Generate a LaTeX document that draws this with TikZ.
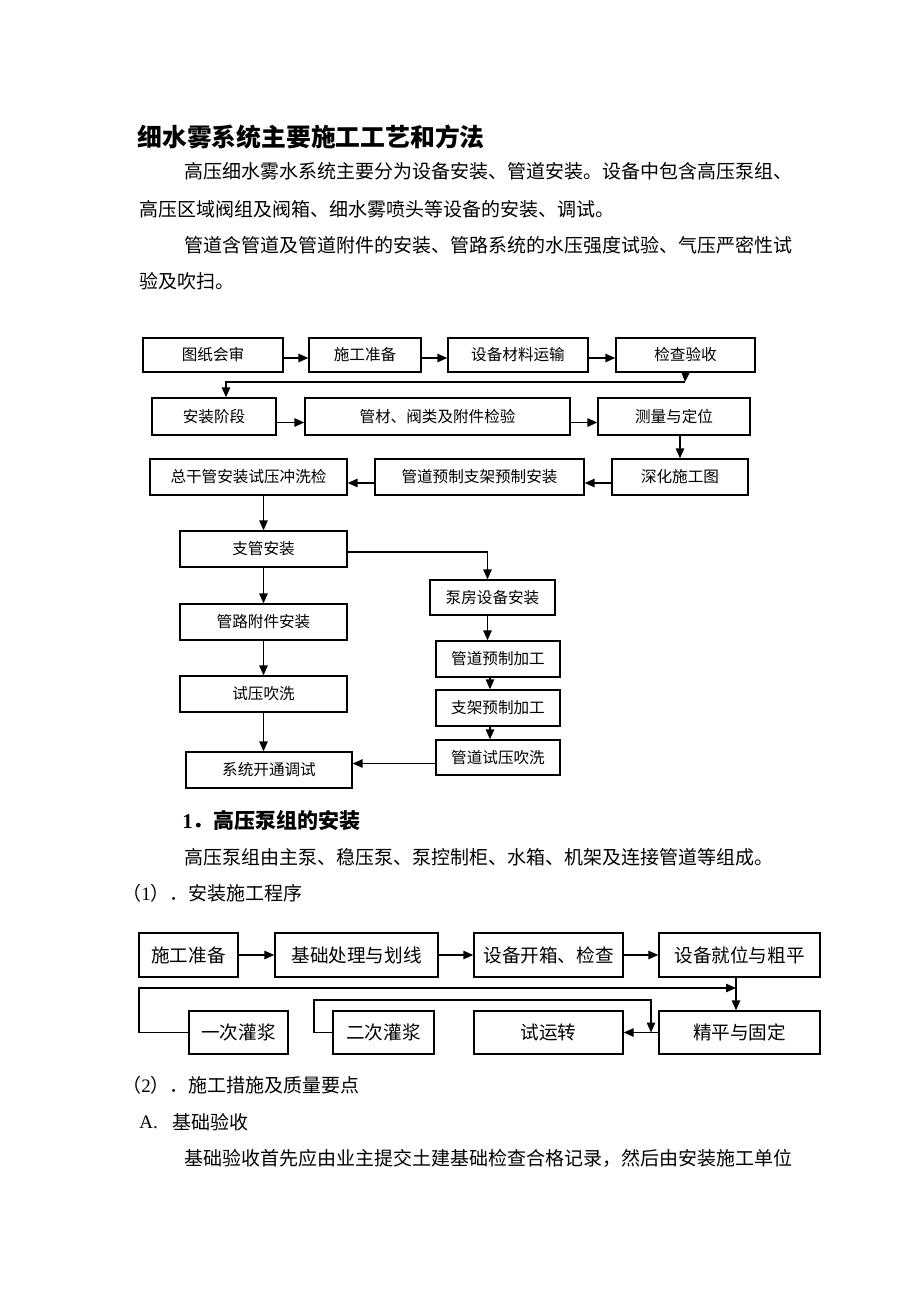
\documentclass[tikz,border=0pt]{standalone}
\usepackage{fontspec}
\setmainfont{Noto Sans CJK SC}
\newfontfamily\lat{Liberation Serif}
\usetikzlibrary{arrows.meta,calc}
\newcommand\mybox[7]{\node[#1,minimum width={(#5-#3)*0.5pt},minimum height={(#6-#4)*0.5pt}] (#2) at ({(#3+#5)/2},{(#4+#6)/2}) {#7};}
\begin{document}
\begin{tikzpicture}[x=0.5pt,y=-0.5pt,
 box/.style={draw,line width=0.65pt,inner sep=0,font=\fontsize{7.8pt}{9pt}\selectfont},
 boxb/.style={box,font=\fontsize{9.3pt}{11pt}\selectfont},
 arr/.style={line width=0.75pt,-{Triangle[length=5pt,width=4.2pt]}},
 txt/.style={anchor=west,inner sep=0,font=\fontsize{9.5pt}{11pt}\selectfont},
 head/.style={anchor=west,inner sep=0,font=\fontsize{12.4pt}{14pt}\selectfont\bfseries},
 sub/.style={anchor=west,inner sep=0,font=\fontsize{10.5pt}{12pt}\selectfont\bfseries}]
\fill[white] (0,0) rectangle (920,1302);
\useasboundingbox (0,0) rectangle (920,1302);

% ---------- header text ----------
\node[head] (title) at (137,137) {细水雾系统主要施工工艺和方法};
\node[txt] (p1) at (184,171) {高压细水雾水系统主要分为设备安装、管道安装。设备中包含高压泵组、};
\node[txt] (p2) at (139,209) {高压区域阀组及阀箱、细水雾喷头等设备的安装、调试。};
\node[txt] (p3) at (184,245) {管道含管道及管道附件的安装、管路系统的水压强度试验、气压严密性试};
\node[txt] (p4) at (139,281) {验及吹扫。};

% ---------- flowchart 1 ----------
\mybox{box}{a1}{143}{338}{283}{372}{图纸会审}
\mybox{box}{a2}{309}{338}{421}{372}{施工准备}
\mybox{box}{a3}{448}{338}{588}{372}{设备材料运输}
\mybox{box}{a4}{616}{338}{755}{372}{检查验收}
\mybox{box}{b1}{152}{398}{276}{435}{安装阶段}
\mybox{box}{b2}{305}{398}{570}{435}{管材、阀类及附件检验}
\mybox{box}{b3}{598}{398}{750}{435}{测量与定位}
\mybox{box}{c1}{150}{459}{347}{495}{总干管安装试压冲洗检}
\mybox{box}{c2}{375}{459}{584}{495}{管道预制支架预制安装}
\mybox{box}{c3}{612}{459}{748}{495}{深化施工图}
\mybox{box}{d1}{180}{531}{347}{567}{支管安装}
\mybox{box}{d2}{180}{604}{347}{640}{管路附件安装}
\mybox{box}{d3}{180}{676}{347}{712}{试压吹洗}
\mybox{box}{d4}{186}{752}{352}{788}{系统开通调试}
\mybox{box}{e1}{430}{580}{555}{615}{泵房设备安装}
\mybox{box}{e2}{436}{641}{560}{677}{管道预制加工}
\mybox{box}{e3}{436}{690}{560}{726}{支架预制加工}
\mybox{box}{e4}{436}{740}{560}{775}{管道试压吹洗}

\draw[arr] ([yshift=-1.5pt]a1.east) -- ([yshift=-1.5pt]a2.west);
\draw[arr] ([yshift=-1.5pt]a2.east) -- ([yshift=-1.5pt]a3.west);
\draw[arr] ([yshift=-1.5pt]a3.east) -- ([yshift=-1.5pt]a4.west);
\coordinate (k1) at (685,382);
\draw[arr] (a4.south) -- (k1);
\draw[arr] (k1) -| ([xshift=6pt]b1.north);
\draw[arr] ([yshift=-3pt]b1.east) -- ([yshift=-3pt]b2.west);
\draw[arr] ([yshift=-3pt]b2.east) -- ([yshift=-3pt]b3.west);
\draw[arr] (c3.north |- b3.south) -- (c3.north);
\draw[arr] ([yshift=-3pt]c3.west) -- ([yshift=-3pt]c2.east);
\draw[arr] ([yshift=-3pt]c2.west) -- ([yshift=-3pt]c1.east);
\draw[arr] (d1.north |- c1.south) -- (d1.north);
\draw[arr] (d1.south) -- (d2.north);
\draw[arr] (d2.south) -- (d3.north);
\draw[arr] (d3.south) -- (d3.south |- d4.north);
\draw[arr] ([yshift=-1.5pt]d1.east) -| ([xshift=-2.5pt]e1.north);
\draw[arr] ([xshift=-2.5pt]e1.south) -- ([xshift=-2.5pt]e1.south |- e2.north);
\draw[arr] ([xshift=-4pt]e2.south) -- ([xshift=-4pt]e3.north);
\draw[arr] ([xshift=-4pt]e3.south) -- ([xshift=-4pt]e4.north);
\draw[arr] ([yshift=-3pt]e4.west) -- ([yshift=-3pt]e4.west -| d4.east);

% ---------- section 1 text ----------
\node[sub] (s1) at (182,821) {{\lat\bfseries 1}．高压泵组的安装};
\node[txt] (s1p) at (184,857) {高压泵组由主泵、稳压泵、泵控制柜、水箱、机架及连接管道等组成。};
\node[txt] (s1a) at (122,893) {（{\lat 1}）．安装施工程序};

% ---------- flowchart 2 ----------
\mybox{boxb}{f1}{139}{933}{238}{977}{施工准备}
\mybox{boxb}{f2}{275}{933}{438}{977}{基础处理与划线}
\mybox{boxb}{f3}{474}{933}{623}{977}{设备开箱、检查}
\mybox{boxb}{f4}{659}{933}{820}{977}{设备就位与粗平}
\mybox{boxb}{g1}{189}{1011}{288}{1054}{一次灌浆}
\mybox{boxb}{g2}{333}{1011}{434}{1054}{二次灌浆}
\mybox{boxb}{g3}{474}{1011}{623}{1054}{试运转}
\mybox{boxb}{g4}{659}{1011}{820}{1054}{精平与固定}

\draw[arr] (f1.east) -- (f2.west);
\draw[arr] (f2.east) -- (f3.west);
\draw[arr] (f3.east) -- (f4.west);
\coordinate (J1) at (736,988);
\coordinate (L1) at (139,988);
\coordinate (J2) at (651,1000);
\coordinate (L2) at (314,1000);
\draw[arr] (f4.south -| J1) -- (J1 |- g4.north);
\draw[arr] (g1.west) -| (L1) -- (J1);
\draw[arr] (g2.west) -| (L2) -- (J2) -- (J2 |- g3.east);
\draw[arr] (g4.west) -- (g3.east);

% ---------- section 2 text ----------
\node[txt] (s2) at (122,1085) {（{\lat 2}）．施工措施及质量要点};
\node[txt] (sA) at (139,1122) {{\lat A.}};
\node[txt] (sAt) at (172,1122) {基础验收};
\node[txt] (sAp) at (184,1158) {基础验收首先应由业主提交土建基础检查合格记录，然后由安装施工单位};
\end{tikzpicture}
\end{document}
